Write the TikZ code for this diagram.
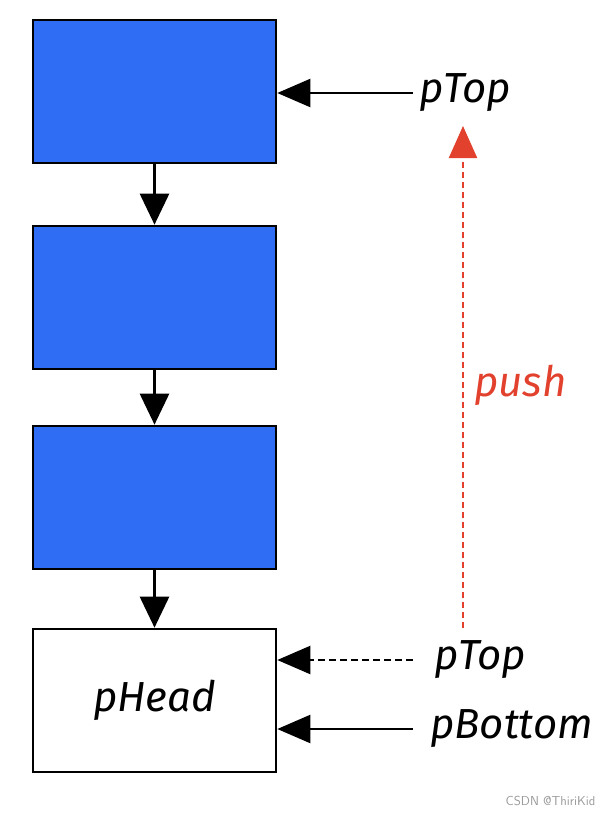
\documentclass[tikz,border=0pt]{standalone}
\usepackage{fontspec}
\usepackage{xcolor}
\usetikzlibrary{arrows.meta}
\newfontfamily\handfont{Fira Sans}
\definecolor{fillblue}{HTML}{2F6DF4}
\definecolor{pushred}{HTML}{E2412E}
\definecolor{wmgray}{HTML}{9A9A9A}
\tikzset{
  blk/.style={draw=black, line width=2.6pt, minimum width=243pt, minimum height=143pt, inner sep=0pt},
  link/.style={draw=black, line width=2.6pt, -{Triangle[length=31pt,width=29pt]}},
  ptr/.style={draw=black, line width=2.2pt, -{Triangle[length=33pt,width=28pt]}},
  ptrd/.style={ptr, dash pattern=on 7pt off 4pt},
  pushline/.style={draw=pushred, line width=2.2pt, dash pattern=on 6pt off 4pt, -{Triangle[length=32pt,width=28pt]}},
  hand/.style={font=\handfont\itshape\fontsize{42}{42}\selectfont, inner sep=2pt},
}
\begin{document}
\begin{tikzpicture}[x=1pt,y=-1pt]
  \useasboundingbox[fill=white] (0,0) rectangle (615,815);
  % stack nodes
  \node[blk, fill=fillblue] (n1) at (154.5,91.5) {};
  \node[blk, fill=fillblue] (n2) at (154.5,297.5) {};
  \node[blk, fill=fillblue] (n3) at (154.5,497.5) {};
  \node[blk, fill=white, hand] (head) at (154.5,700.5) {pHead};
  \foreach \A/\B in {n1/n2,n2/n3,n3/head}
    \draw[link] (\A.south) -- (\B.north);
  % pointers
  \node[hand, anchor=west] (topold) at (417,93) {pTop};
  \node[hand, anchor=west] (topnew) at (432,660) {pTop};
  \node[hand, anchor=west] (bottom) at (428,729) {pBottom};
  \draw[ptr] (topold.west -| 413,0) -- (topold.west -| n1.east);
  \draw[ptrd] (topnew.west -| 413,0) -- (topnew.west -| head.east);
  \draw[ptr] (bottom.west -| 413,0) -- (bottom.west -| head.east);
  % push
  \coordinate (pushfrom) at (463,628);
  \coordinate (pushto) at (463,126);
  \draw[pushline] (pushfrom) -- (pushto);
  \node[hand, text=pushred, anchor=west] (pushlbl) at (472,385) {push};
  \node[font=\sffamily\fontsize{13}{13}\selectfont, text=wmgray, anchor=east] (mark) at (599,801) {CSDN @ThiriKid};
\end{tikzpicture}
\end{document}
